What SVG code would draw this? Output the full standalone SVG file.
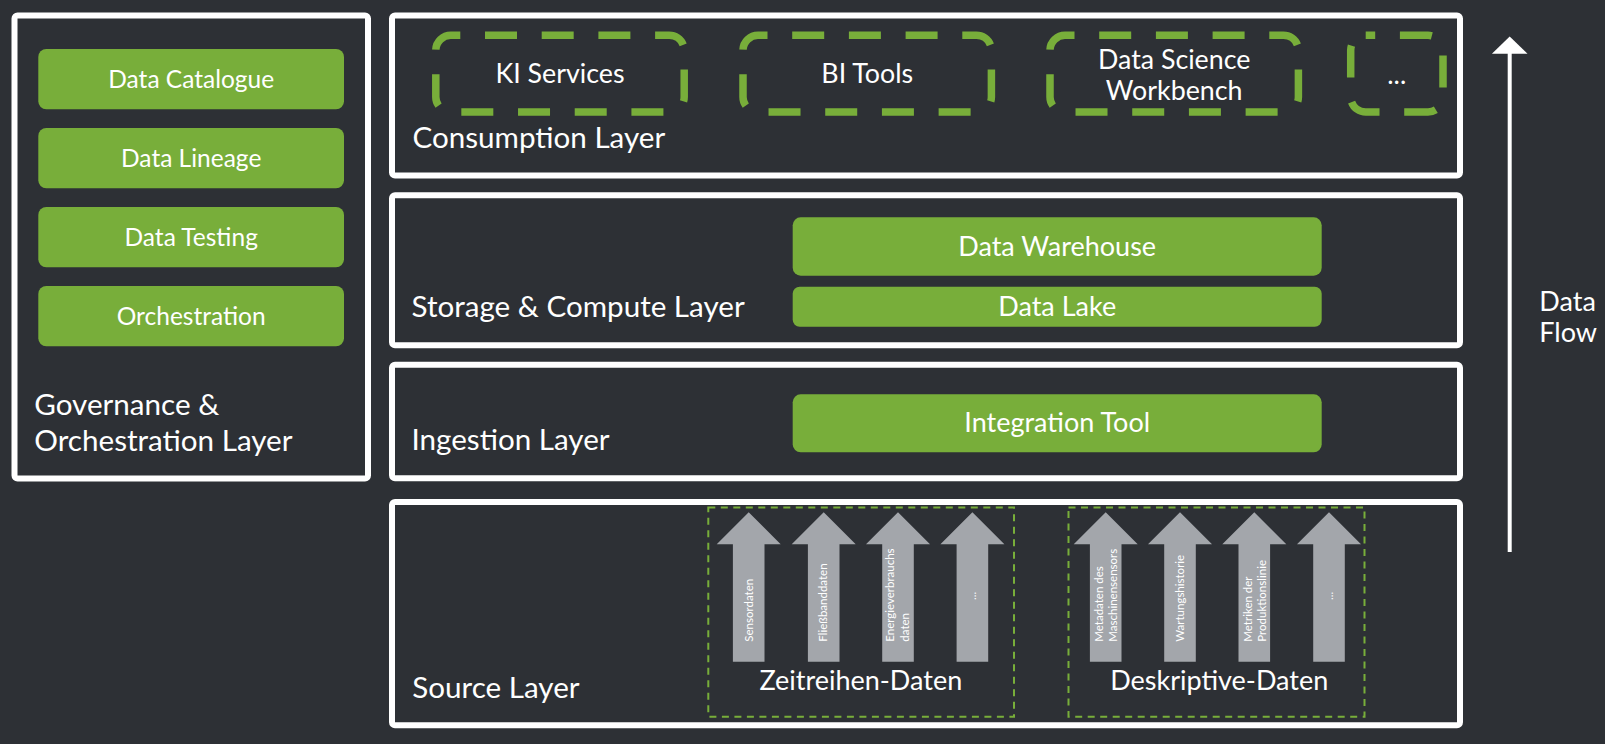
<svg xmlns="http://www.w3.org/2000/svg" width="1605" height="744" viewBox="0 0 1605 744">
<style>
text{font-family:Lato,"Open Sans","Liberation Sans",sans-serif;fill:#ffffff}
.layer{fill:none;stroke:#ffffff;stroke-width:6}
.gbox{fill:#78AE3A}
.cons{fill:none;stroke:#78AE3A;stroke-width:7.5;stroke-dasharray:32 24.7;stroke-dashoffset:22.5}
.grp{fill:none;stroke:#78AE3A;stroke-width:2;stroke-dasharray:7 5.5}
.arr{fill:#A3A6AB}
.tg{font-size:24.5px;text-anchor:middle}
.tc{font-size:26.8px;text-anchor:middle}
.ts{font-size:27px;text-anchor:middle}
.lbl{font-size:29.6px}
.small{font-size:11.5px}
</style>
<rect width="1605" height="744" fill="#2D3035"/>

<g id="governance-layer">
<rect class="layer" x="14.5" y="15.5" width="353.5" height="463" rx="3"/>
<text class="lbl" x="34.3" y="415">Governance &amp;</text>
<text class="lbl" x="34.3" y="450.7">Orchestration Layer</text>
</g>
<g id="data-catalogue"><rect class="gbox" x="38.3" y="49" width="305.7" height="60.3" rx="8"/><text class="tg" x="191.2" y="88">Data Catalogue</text></g>
<g id="data-lineage"><rect class="gbox" x="38.3" y="128" width="305.7" height="60.3" rx="8"/><text class="tg" x="191.2" y="167">Data Lineage</text></g>
<g id="data-testing"><rect class="gbox" x="38.3" y="207" width="305.7" height="60.3" rx="8"/><text class="tg" x="191.2" y="246">Data Testing</text></g>
<g id="orchestration"><rect class="gbox" x="38.3" y="286" width="305.7" height="60.3" rx="8"/><text class="tg" x="191.2" y="325">Orchestration</text></g>

<g id="consumption-layer">
<rect class="layer" x="392" y="15.5" width="1068" height="160" rx="3"/>
<text class="lbl" x="412.5" y="148">Consumption Layer</text>
</g>
<g id="ki-services"><rect class="cons" x="435.8" y="35.3" width="248.4" height="76.7" rx="15"/><text class="tc" x="560" y="83">KI Services</text></g>
<g id="bi-tools"><rect class="cons" x="743" y="35.3" width="248.4" height="76.7" rx="15"/><text class="tc" x="867.2" y="83">BI Tools</text></g>
<g id="data-science-workbench"><rect class="cons" x="1050" y="35.3" width="248.4" height="76.7" rx="15"/><text class="tc" x="1174.2" y="68.5">Data Science</text><text class="tc" x="1174.2" y="99.5">Workbench</text></g>
<g id="more-consumers"><rect class="cons" x="1350.7" y="35.3" width="92.3" height="76.7" rx="15"/><text class="tc" x="1396.8" y="84">...</text></g>

<g id="storage-layer">
<rect class="layer" x="392" y="195.3" width="1068" height="150" rx="3"/>
<text class="lbl" x="411.5" y="316.5">Storage &amp; Compute Layer</text>
</g>
<g id="data-warehouse"><rect class="gbox" x="792.7" y="217.3" width="529" height="58.4" rx="8"/><text class="ts" x="1057.2" y="255.5">Data Warehouse</text></g>
<g id="data-lake"><rect class="gbox" x="792.7" y="286.7" width="529" height="40" rx="7"/><text class="ts" x="1057.2" y="316">Data Lake</text></g>

<g id="ingestion-layer">
<rect class="layer" x="392" y="364.7" width="1068" height="113.5" rx="3"/>
<text class="lbl" x="411.5" y="450">Ingestion Layer</text>
</g>
<g id="integration-tool"><rect class="gbox" x="792.7" y="394.3" width="529" height="58" rx="8"/><text class="ts" x="1057.2" y="432">Integration Tool</text></g>

<g id="source-layer">
<rect class="layer" x="392" y="502" width="1068" height="223.3" rx="3"/>
<text class="lbl" x="412.3" y="698.3">Source Layer</text>
</g>

<g id="zeitreihen-daten">
<rect class="grp" x="708.3" y="507.5" width="305.7" height="209.2"/>
<text class="ts" x="860.8" y="690">Zeitreihen-Daten</text>
</g>
<g id="sensordaten"><path class="arr" d="M748.7 512.3 L780.7 544.3 L764.5 544.3 L764.5 661.7 L732.9 661.7 L732.9 544.3 L716.7 544.3 Z"/><text class="small" transform="translate(753.3 641.7) rotate(-90)">Sensordaten</text></g>
<g id="fliessbanddaten"><path class="arr" d="M823.7 512.3 L855.7 544.3 L839.5 544.3 L839.5 661.7 L807.9 661.7 L807.9 544.3 L791.7 544.3 Z"/><text class="small" transform="translate(827.3 641.7) rotate(-90)">Fließbanddaten</text></g>
<g id="energieverbrauchsdaten"><path class="arr" d="M898 512.3 L930 544.3 L913.8 544.3 L913.8 661.7 L882.2 661.7 L882.2 544.3 L866 544.3 Z"/><text class="small" transform="translate(894.3 641.7) rotate(-90)">Energieverbrauchs</text><text class="small" transform="translate(908.6 641.7) rotate(-90)">daten</text></g>
<g id="zeitreihen-more"><path class="arr" d="M972.4 512.3 L1004.4 544.3 L988.2 544.3 L988.2 661.7 L956.6 661.7 L956.6 544.3 L940.4 544.3 Z"/><text class="small" transform="translate(976 600) rotate(-90)">...</text></g>

<g id="deskriptive-daten">
<rect class="grp" x="1068.5" y="507.5" width="296" height="209.2"/>
<text class="ts" x="1219.2" y="690">Deskriptive-Daten</text>
</g>
<g id="metadaten-maschinensensor"><path class="arr" d="M1105.7 512.3 L1137.7 544.3 L1121.5 544.3 L1121.5 661.7 L1089.9 661.7 L1089.9 544.3 L1073.7 544.3 Z"/><text class="small" transform="translate(1102.7 641.7) rotate(-90)">Metadaten des</text><text class="small" transform="translate(1116.7 641.7) rotate(-90)">Maschinensensors</text></g>
<g id="wartungshistorie"><path class="arr" d="M1180 512.3 L1212 544.3 L1195.8 544.3 L1195.8 661.7 L1164.2 661.7 L1164.2 544.3 L1148 544.3 Z"/><text class="small" transform="translate(1184 641.7) rotate(-90)">Wartungshistorie</text></g>
<g id="metriken-produktionslinie"><path class="arr" d="M1254.3 512.3 L1286.3 544.3 L1270.1 544.3 L1270.1 661.7 L1238.5 661.7 L1238.5 544.3 L1222.3 544.3 Z"/><text class="small" transform="translate(1252.3 641.7) rotate(-90)">Metriken der</text><text class="small" transform="translate(1266 641.7) rotate(-90)">Produktionslinie</text></g>
<g id="deskriptive-more"><path class="arr" d="M1329 512.3 L1361 544.3 L1344.8 544.3 L1344.8 661.7 L1313.2 661.7 L1313.2 544.3 L1297 544.3 Z"/><text class="small" transform="translate(1333 600) rotate(-90)">...</text></g>

<g id="connectors">
<line x1="1509.7" y1="552" x2="1509.7" y2="52" stroke="#ffffff" stroke-width="4"/>
<path d="M1509.7 36.5 L1527.5 53.7 L1491.9 53.7 Z" fill="#ffffff"/>
</g>
<g id="data-flow-label">
<text class="lbl" x="1539.3" y="311" style="font-size:27px">Data</text>
<text class="lbl" x="1539.3" y="342" style="font-size:27px">Flow</text>
</g>
</svg>
